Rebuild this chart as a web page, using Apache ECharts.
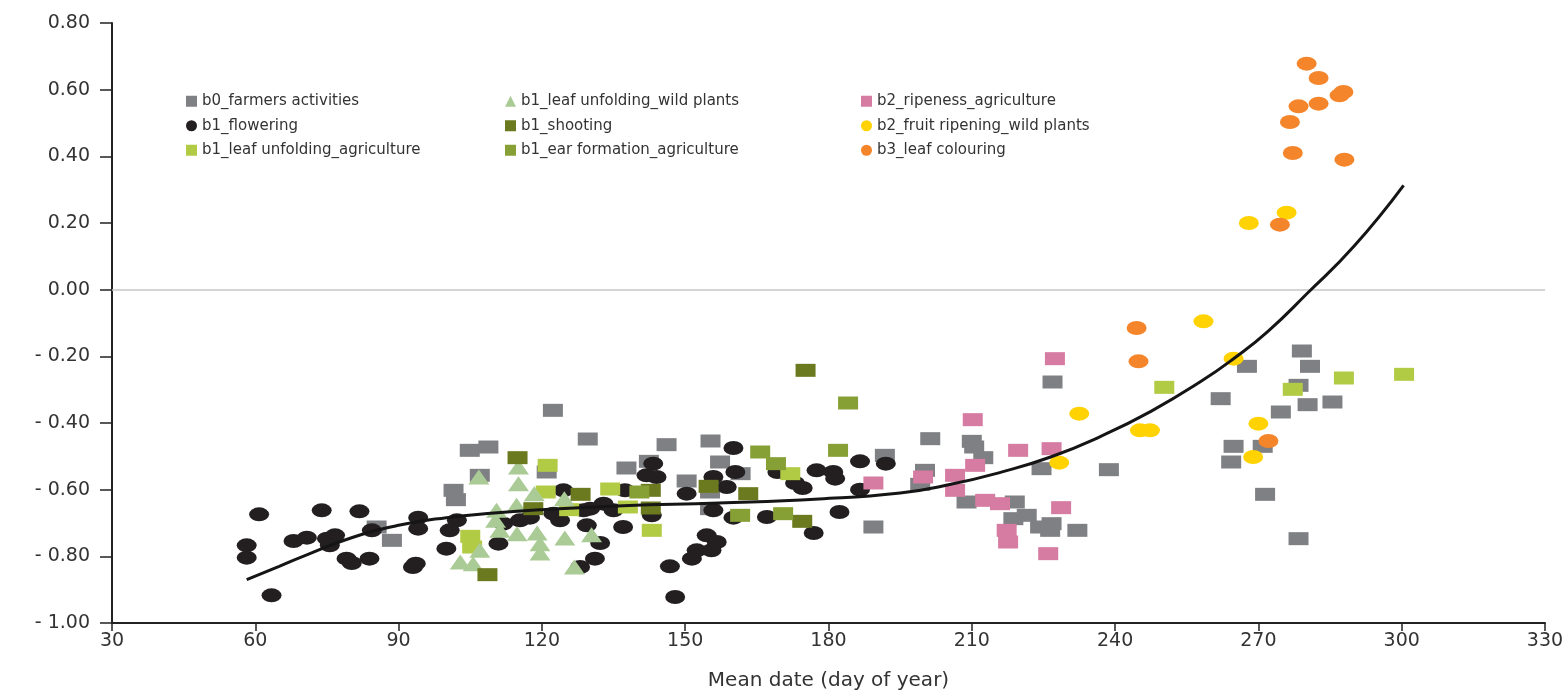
<!DOCTYPE html>
<html>
<head>
<meta charset="utf-8">
<script src="https://cdn.jsdelivr.net/npm/echarts@6/dist/echarts.min.js"></script>
<style>
html,body{margin:0;padding:0;background:#ffffff;}
#chart{width:1567px;height:692px;}
</style>
</head>
<body>
<div id="chart"></div>
<script>
// ---------- tick labels ----------
const xTickValues = [30, 60, 90, 120, 150, 180, 210, 240, 270, 300, 330];
const yTickLabels = ['- 1.00', '- 0.80', '- 0.60', '- 0.40', '- 0.20', '0.00', '0.20', '0.40', '0.60', '0.80'];
const xAxisTitle = 'Mean date (day of year)';

// ---------- series names ----------
const seriesNames = [
  'b0_farmers activities',
  'b1_flowering',
  'b1_leaf unfolding_agriculture',
  'b1_leaf unfolding_wild plants',
  'b1_shooting',
  'b1_ear formation_agriculture',
  'b2_ripeness_agriculture',
  'b2_fruit ripening_wild plants',
  'b3_leaf colouring'
];

// ---------- data: [day of year, value] ----------
const farmers = [[85.4,-0.712],[88.6,-0.752],[101.5,-0.602],[102.0,-0.630],[104.9,-0.482],[107.0,-0.557],[108.8,-0.472],[121.0,-0.547],[122.3,-0.362],[129.6,-0.448],[137.7,-0.535],[142.4,-0.515],[146.1,-0.465],[150.3,-0.574],[155.3,-0.454],[155.2,-0.607],[155.2,-0.657],[157.3,-0.517],[161.6,-0.552],[189.4,-0.712],[191.8,-0.497],[199.2,-0.584],[200.2,-0.542],[201.3,-0.447],[208.9,-0.637],[210.0,-0.455],[210.5,-0.472],[212.4,-0.504],[218.7,-0.687],[219.0,-0.637],[221.5,-0.677],[224.3,-0.712],[224.6,-0.537],[226.4,-0.722],[226.7,-0.702],[226.9,-0.277],[232.1,-0.722],[238.7,-0.540],[262.1,-0.327],[264.3,-0.517],[264.8,-0.470],[267.6,-0.230],[270.9,-0.470],[271.4,-0.614],[274.7,-0.367],[278.4,-0.287],[278.4,-0.747],[279.1,-0.184],[280.3,-0.345],[280.8,-0.230],[285.5,-0.337]];

const flowering = [[58.2,-0.767],[58.2,-0.804],[60.8,-0.674],[63.4,-0.917],[68.0,-0.754],[70.8,-0.744],[73.9,-0.662],[75.0,-0.747],[76.7,-0.737],[75.6,-0.767],[79.1,-0.807],[80.2,-0.820],[81.8,-0.665],[83.9,-0.807],[84.4,-0.722],[93.6,-0.822],[93.0,-0.832],[94.1,-0.684],[94.1,-0.717],[100.0,-0.777],[100.7,-0.722],[102.2,-0.692],[110.9,-0.762],[111.9,-0.702],[115.4,-0.692],[117.5,-0.684],[122.4,-0.672],[123.8,-0.692],[124.5,-0.602],[128.7,-0.662],[129.4,-0.707],[130.1,-0.657],[132.2,-0.760],[131.1,-0.807],[128.0,-0.832],[132.9,-0.642],[135.0,-0.662],[137.0,-0.712],[137.4,-0.602],[141.9,-0.557],[143.3,-0.522],[144.0,-0.562],[143.0,-0.677],[146.8,-0.830],[147.9,-0.922],[150.3,-0.612],[151.4,-0.807],[152.4,-0.782],[154.5,-0.737],[155.5,-0.782],[156.6,-0.757],[155.9,-0.662],[155.9,-0.562],[158.7,-0.592],[160.1,-0.475],[160.5,-0.547],[160.1,-0.684],[167.1,-0.682],[169.3,-0.547],[173.0,-0.580],[174.6,-0.595],[177.5,-0.542],[176.9,-0.730],[181.0,-0.547],[181.4,-0.567],[182.3,-0.667],[186.6,-0.515],[186.6,-0.600],[192.0,-0.522]];

const leafAgriculture = [[105.0,-0.740],[105.4,-0.772],[120.8,-0.607],[121.2,-0.527],[125.7,-0.660],[134.3,-0.598],[138.0,-0.652],[143.0,-0.722],[172.0,-0.552],[250.3,-0.293],[277.2,-0.299],[287.9,-0.265],[300.5,-0.254]];

const leafWild = [[102.9,-0.817],[105.6,-0.822],[106.8,-0.562],[107.0,-0.782],[110.3,-0.692],[110.5,-0.662],[111.2,-0.722],[114.7,-0.647],[114.8,-0.732],[115.1,-0.532],[115.1,-0.582],[118.4,-0.612],[119.0,-0.730],[119.6,-0.762],[119.6,-0.790],[124.7,-0.627],[124.8,-0.745],[126.8,-0.832],[130.4,-0.735]];

const shooting = [[108.6,-0.855],[114.9,-0.504],[118.2,-0.657],[128.1,-0.614],[142.8,-0.602],[142.8,-0.655],[154.9,-0.590],[163.2,-0.612],[174.5,-0.695],[175.2,-0.242]];

const earFormation = [[140.4,-0.607],[161.5,-0.677],[165.7,-0.487],[169.0,-0.522],[170.5,-0.672],[182.0,-0.482],[184.1,-0.340]];

const ripeness = [[189.4,-0.580],[199.8,-0.562],[206.5,-0.557],[206.5,-0.602],[210.2,-0.390],[210.7,-0.527],[212.8,-0.632],[215.9,-0.642],[217.3,-0.722],[217.6,-0.757],[219.7,-0.482],[226.0,-0.792],[226.7,-0.477],[227.4,-0.207],[228.7,-0.654]];

const fruitRipening = [[228.3,-0.519],[232.5,-0.372],[245.2,-0.422],[247.3,-0.422],[258.5,-0.095],[264.8,-0.207],[268.0,0.200],[268.9,-0.502],[270.0,-0.402],[275.9,0.231]];

const leafColouring = [[244.5,-0.115],[244.9,-0.215],[272.1,-0.454],[274.5,0.195],[276.6,0.503],[277.2,0.410],[278.4,0.550],[280.1,0.678],[282.6,0.558],[282.6,0.635],[287.0,0.583],[287.8,0.593],[288.0,0.390]];

// trend curve
const trend = [[58.2,-0.870],[65,-0.830],[70,-0.800],[80,-0.745],[90,-0.707],[100,-0.684],[110,-0.670],[120,-0.660],[137,-0.648],[157,-0.640],[178,-0.628],[195,-0.610],[205.6,-0.584],[216,-0.548],[226.5,-0.502],[237,-0.440],[247.5,-0.365],[258,-0.275],[265,-0.205],[272,-0.125],[280.3,-0.010],[290,0.130],[300.4,0.313]];

// ---------- styles ----------
const colors = ['#7f8084', '#231f20', '#b2cb45', '#aacb96', '#6b7a1f', '#86a036', '#d67ba1', '#ffd200', '#f5852a'];
const ellipse = 'path://M1,0A1,1,0,1,1,-1,0A1,1,0,1,1,1,0Z';
const seriesData = [farmers, flowering, leafAgriculture, leafWild, shooting, earFormation, ripeness, fruitRipening, leafColouring];
const symbols = ['rect', ellipse, 'rect', 'triangle', 'rect', 'rect', 'rect', ellipse, ellipse];
const legendIcons = ['rect', 'circle', 'rect', 'triangle', 'rect', 'rect', 'rect', 'circle', 'circle'];
const sizes = { rect: [20, 13], triangle: [21, 15], ell: [20, 14] };

const FONT = 'DejaVu Sans, Verdana, sans-serif';
const yMin = -1.0, yMax = 0.8, yStep = 0.2;

const scatterSeries = seriesNames.map((name, i) => ({
  name: name,
  type: 'scatter',
  data: seriesData[i],
  symbol: symbols[i],
  symbolSize: symbols[i] === 'rect' ? sizes.rect : (symbols[i] === 'triangle' ? sizes.triangle : sizes.ell),
  itemStyle: { color: colors[i], opacity: 1 },
  emphasis: { disabled: true },
  z: 2
}));

scatterSeries[0].markLine = {
  silent: true,
  symbol: ['none', 'none'],
  label: { show: false },
  lineStyle: { color: '#c6c6c6', width: 1.5, type: 'solid' },
  data: [{ yAxis: 0 }],
  animation: false
};

const trendSeries = {
  name: 'trend',
  type: 'line',
  data: trend,
  smooth: 0.5,
  showSymbol: false,
  symbol: 'none',
  lineStyle: { color: '#151515', width: 3 },
  emphasis: { disabled: true },
  z: 8
};

function legendCol(idxs, left) {
  return {
    orient: 'vertical',
    left: left,
    top: 88,
    itemWidth: 11,
    itemHeight: 11,
    itemGap: 8,
    selectedMode: false,
    textStyle: { fontFamily: FONT, fontSize: 15, color: '#333', lineHeight: 16.5 },
    data: idxs.map(i => ({ name: seriesNames[i], icon: legendIcons[i] }))
  };
}

const chart = echarts.init(document.getElementById('chart'));
chart.setOption({
  animation: false,
  backgroundColor: '#ffffff',
  grid: { left: 112, right: 22, top: 23, bottom: 69, containLabel: false, outerBoundsMode: 'none' },
  legend: [legendCol([0,1,2], 181), legendCol([3,4,5], 500), legendCol([6,7,8], 856)],
  xAxis: {
    type: 'value',
    min: xTickValues[0],
    max: xTickValues[xTickValues.length - 1],
    interval: xTickValues[1] - xTickValues[0],
    name: xAxisTitle,
    nameLocation: 'middle',
    nameGap: 48,
    nameTextStyle: { fontFamily: FONT, fontSize: 20, color: '#333' },
    axisLine: { show: true, onZero: false, lineStyle: { color: '#222', width: 2 } },
    axisTick: { show: true, length: 8, lineStyle: { color: '#222', width: 1.5 } },
    axisLabel: { fontFamily: FONT, fontSize: 19, color: '#333', margin: 9, showMinLabel: true, showMaxLabel: true },
    splitLine: { show: false }
  },
  yAxis: {
    type: 'value',
    min: yMin,
    max: yMax,
    interval: yStep,
    axisLine: { show: true, onZero: false, lineStyle: { color: '#222', width: 2 } },
    axisTick: { show: true, length: 12, lineStyle: { color: '#222', width: 1.5 } },
    axisLabel: {
      fontFamily: FONT, fontSize: 19, color: '#333', margin: 22,
      showMinLabel: true, showMaxLabel: true,
      formatter: function (v) { return yTickLabels[Math.round((v - yMin) / yStep)]; }
    },
    splitLine: { show: false }
  },
  series: scatterSeries.concat([trendSeries])
});
</script>
</body>
</html>
